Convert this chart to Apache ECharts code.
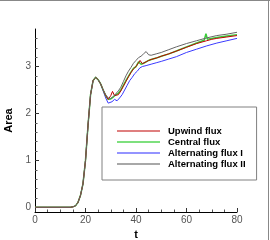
<!DOCTYPE html>
<html><head><meta charset="utf-8">
<script src="https://cdn.jsdelivr.net/npm/echarts@6/dist/echarts.min.js"></script>
<style>html,body{margin:0;padding:0;background:#fff}#c{width:270px;height:240px}</style>
</head><body><div id="c"></div>
<script>
// shared early growth (all schemes overlap)
const riseT = [0, 5, 10, 14, 15, 16, 17, 18, 19, 20, 21, 22, 23, 24, 25, 26];
const riseA = [0, 0, 0, 0, 0.01, 0.03, 0.1, 0.25, 0.5, 1.0, 1.75, 2.4, 2.7, 2.77, 2.72, 2.63];

const upwindT = [27, 28, 29, 30, 30.7, 31.5, 32, 33, 34, 35, 36, 37, 38, 39, 40, 41, 41.6, 42.5, 43, 44, 45, 46, 48, 50, 53, 56, 60, 64, 68, 70, 72, 76, 80];
const upwindA = [2.5, 2.38, 2.3, 2.38, 2.47, 2.38, 2.37, 2.4, 2.48, 2.58, 2.68, 2.78, 2.87, 2.95, 3.0, 3.08, 3.13, 3.06, 3.08, 3.1, 3.13, 3.15, 3.18, 3.22, 3.27, 3.33, 3.41, 3.49, 3.55, 3.58, 3.6, 3.63, 3.66];

const centralT = [27, 28, 29, 30, 31, 32, 33, 34, 35, 36, 37, 38, 39, 40, 41, 42, 43, 44, 45, 46, 48, 50, 53, 56, 60, 64, 67, 67.7, 68.3, 72, 76, 80];
const centralA = [2.5, 2.38, 2.3, 2.31, 2.35, 2.4, 2.43, 2.5, 2.6, 2.7, 2.79, 2.88, 2.96, 3.0, 3.1, 3.05, 3.07, 3.1, 3.13, 3.15, 3.18, 3.22, 3.27, 3.33, 3.42, 3.5, 3.56, 3.7, 3.58, 3.62, 3.65, 3.68];

const alt1T = [27, 28, 29, 29.7, 30.5, 31.5, 32.5, 33.5, 34.5, 35.5, 36.5, 37.5, 38.5, 39.5, 40.5, 41.5, 42.5, 44, 46, 48, 50, 53, 56, 60, 64, 68, 72, 76, 80];
const alt1A = [2.48, 2.33, 2.22, 2.19, 2.25, 2.3, 2.27, 2.33, 2.4, 2.5, 2.6, 2.7, 2.77, 2.85, 2.9, 2.97, 3.0, 3.02, 3.05, 3.08, 3.11, 3.16, 3.21, 3.3, 3.37, 3.44, 3.5, 3.55, 3.6];

const alt2T = [27, 28, 29, 30, 31, 32, 33, 34, 35, 36, 37, 38, 39, 40, 41, 42, 43, 44, 45, 46, 48, 50, 53, 56, 60, 64, 68, 72, 76, 80];
const alt2A = [2.5, 2.4, 2.33, 2.32, 2.36, 2.42, 2.48, 2.56, 2.68, 2.8, 2.9, 2.98, 3.07, 3.13, 3.19, 3.22, 3.27, 3.32, 3.25, 3.24, 3.27, 3.3, 3.36, 3.42, 3.49, 3.55, 3.61, 3.66, 3.69, 3.73];

const xTicks = [0, 20, 40, 60, 80];
const yTicks = [0, 1, 2, 3];
const yMinorTicks = [0.2, 0.4, 0.6, 0.8, 1.2, 1.4, 1.6, 1.8, 2.2, 2.4, 2.6, 2.8, 3.2, 3.4, 3.6];
const legendNames = ['Upwind flux', 'Central flux', 'Alternating flux I', 'Alternating flux II'];

function pairs(t, a) { return riseT.map((x, i) => [x, riseA[i]]).concat(t.map((x, i) => [x, a[i]])); }

const thin = 'path://M0,0H43V1H0Z';
const thick = 'path://M0,0H43V2H0Z';

const chart = echarts.init(document.getElementById('c'));
const font = 'Liberation Sans, Arial, sans-serif';
chart.setOption({
  animation: false,
  grid: { left: 35, right: 33, top: 29, bottom: 28, containLabel: false, outerBoundsMode: 'none' },
  graphic: [
    { type: 'line', shape: { x1: 0, y1: 0.5, x2: 270, y2: 0.5 }, style: { stroke: '#888', lineWidth: 1 } },
    { type: 'line', shape: { x1: 268.5, y1: 0, x2: 268.5, y2: 240 }, style: { stroke: '#888', lineWidth: 1 } }
  ],
  xAxis: {
    type: 'value', min: 0, max: 80, interval: 20,
    name: 't', nameLocation: 'middle', nameGap: 14,
    nameTextStyle: { fontFamily: font, fontWeight: 'bold', fontSize: 11, color: '#000' },
    axisLine: { show: true, onZero: false, lineStyle: { color: '#000', width: 1 } },
    axisTick: { show: true, inside: true, length: 4, lineStyle: { color: '#333' } },
    minorTick: { show: true, splitNumber: 4, length: 2.5, lineStyle: { color: '#555' } },
    axisLabel: { fontFamily: font, fontSize: 10, color: '#555', margin: 3, customValues: xTicks },
    splitLine: { show: false }
  },
  yAxis: [{
    type: 'value', min: -0.1, max: 3.8,
    name: 'Area', nameLocation: 'middle', nameGap: 16, nameRotate: 90,
    nameTextStyle: { fontFamily: font, fontWeight: 'bold', fontSize: 11, color: '#000' },
    axisLine: { show: true, onZero: false, lineStyle: { color: '#000', width: 1 } },
    axisTick: { show: true, inside: true, length: 4, customValues: yTicks, lineStyle: { color: '#333' } },
    axisLabel: { fontFamily: font, fontSize: 10, color: '#555', margin: 4, customValues: yTicks },
    splitLine: { show: false }
  }, {
    type: 'value', min: -0.1, max: 3.8, position: 'left',
    axisLine: { show: false },
    axisTick: { show: true, inside: true, length: 2.5, customValues: yMinorTicks, lineStyle: { color: '#555' } },
    axisLabel: { show: false },
    splitLine: { show: false }
  }],
  legend: {
    orient: 'vertical', left: 102, top: 107,
    padding: [19, 11, 11, 15],
    itemWidth: 43, itemHeight: 10, itemGap: 1, symbolKeepAspect: true,
    backgroundColor: '#fff', borderColor: '#808080', borderWidth: 1,
    textStyle: { fontFamily: font, fontWeight: 'bold', fontSize: 9.5, color: '#000', lineHeight: 10, padding: [0, 0, 0, 3] },
    data: [
      { name: legendNames[0], icon: thin, itemStyle: { color: '#c00000' } },
      { name: legendNames[1], icon: thick, itemStyle: { color: '#7ee07e' } },
      { name: legendNames[2], icon: thin, itemStyle: { color: '#2a2aff' } },
      { name: legendNames[3], icon: thick, itemStyle: { color: '#a8a8a8' } }
    ]
  },
  series: [
    { name: legendNames[2], type: 'line', symbol: 'none', data: pairs(alt1T, alt1A), lineStyle: { color: '#3a3aff', width: 1 }, itemStyle: { color: '#3a3aff' } },
    { name: legendNames[1], type: 'line', symbol: 'none', data: pairs(centralT, centralA), lineStyle: { color: '#3acc3a', width: 1.5 }, itemStyle: { color: '#3acc3a' } },
    { name: legendNames[0], type: 'line', symbol: 'none', data: pairs(upwindT, upwindA), lineStyle: { color: '#c00000', width: 1 }, itemStyle: { color: '#c00000' } },
    { name: legendNames[3], type: 'line', symbol: 'none', data: pairs(alt2T, alt2A), lineStyle: { color: '#666', width: 1 }, itemStyle: { color: '#666' } }
  ]
});
</script></body></html>
